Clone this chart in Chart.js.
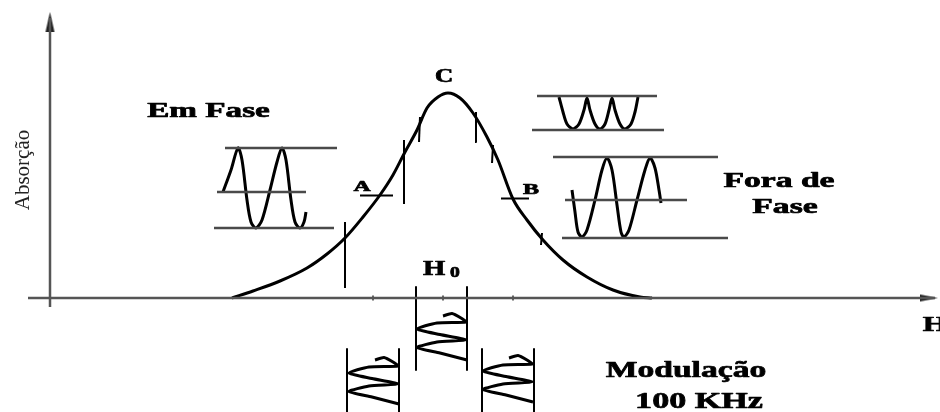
<!DOCTYPE html>
<html>
<head>
<meta charset="utf-8">
<script src="https://cdn.jsdelivr.net/npm/chart.js@4/dist/chart.umd.min.js"></script>
<style>
  html, body { margin: 0; padding: 0; background: #fff; }
  #wrap { width: 940px; height: 412px; position: relative; }
</style>
</head>
<body>
<div id="wrap"><canvas id="esr"></canvas></div>
<script>
// Absorption line: field H against absorption (origin at the axes crossing)
const fieldH     = [182, 203, 230, 257, 277, 295, 313, 330, 343, 355, 367, 377, 388, 398, 410, 423, 437, 448, 463, 477, 493, 513, 537, 563, 590, 602];
const absorption = [0, 7, 17, 30, 44, 60, 81, 103, 123, 146, 168, 190, 201, 205, 200, 185, 161, 138, 99, 78, 58, 38, 21, 8, 1, 0];

// Modulation sweep bars standing on the line: [H, from, to]
const sweepBars = [[295, 10, 76], [354, 94, 158]];
// Small strokes marking the sweep on the line: [H, from, to]
const lineStrokes = [[369, 156, 181], [425, 156, 186], [442, 135, 153], [491, 53, 65]];
// Working points A and B: [H start, H end, level]
const levelA = [310, 343, 102.5];
const levelB = [451, 479, 99.5];

// Field axis ticks
const axisTicks = [323, 393, 463];

// In-phase signal (point A)
const inPhaseH   = [173, 181, 188, 192, 197, 201, 206, 212, 220, 227, 232, 236, 241, 245, 250, 254, 256];
const inPhaseV   = [106, 128, 150, 138, 98, 76, 70, 78, 108, 136, 150, 138, 98, 76, 70, 76, 86];
const inPhaseRefs = [[175, 287, 150], [167, 256, 106], [164, 284, 70]];

// Signal at the peak C (double frequency)
const peakH = [509, 513, 517, 523, 529, 534, 537, 540, 545, 550, 555, 559, 562, 565, 570, 575, 581, 585, 588];
const peakV = [201, 186, 174, 169, 174, 188, 200, 188, 174, 169, 174, 188, 200, 188, 174, 169, 174, 186, 201];
const peakRefs = [[487, 607, 202], [482, 614, 168]];

// Out-of-phase signal (point B)
const outPhaseH = [522, 525, 528, 532, 537, 545, 552, 557, 562, 567, 571, 574, 579, 587, 595, 600, 605, 609, 611];
const outPhaseV = [108, 86, 66, 61, 68, 98, 128, 140, 128, 93, 66, 61, 68, 98, 128, 140, 130, 108, 95];
const outPhaseRefs = [[503, 668, 141], [515, 637, 98], [512, 678, 60]];

// 100 kHz field modulation windows: [left H, right H, top, bottom]
const modWindows = [[366, 417, 11, -72], [297, 349, -51, -116], [432, 484, -51, -116]];
// Modulation traces inside each window
const modCenterH = [393, 402, 411, 416, 387, 367, 390, 416, 387, 367, 390, 417];
const modCenterV = [-18, -15.5, -20, -24, -25, -31, -36.5, -42, -44, -49.5, -55, -62];
const modLeftH   = [325, 334, 343, 348, 319, 299, 322, 348, 319, 299, 322, 349];
const modLeftV   = [-62, -59.5, -64, -68, -69, -75, -80.5, -86, -88, -93.5, -99, -106];
const modRightH  = [459, 468, 477, 482, 453, 433, 456, 482, 453, 433, 456, 483];
const modRightV  = [-60, -57.5, -62, -66, -67, -73, -78.5, -84, -86, -91.5, -97, -104];

// Axes extent
const axisH = [-22, 885];
const axisA = [-9, 280];

// Texts
const texts = [
  { t: 'Absorção', x: -21.5, y: 128, size: 21, bold: false, sx: 1, rot: -90 },
  { t: 'Em Fase', x: 158.5, y: 181, size: 21, bold: true, sx: 1.58 },
  { t: 'C', x: 394, y: 216, size: 18, bold: true, sx: 1.4 },
  { t: 'A', x: 312, y: 107, size: 14, bold: true, sx: 1.7 },
  { t: 'B', x: 481, y: 104, size: 15, bold: true, sx: 1.6 },
  { t: 'Fora de', x: 729, y: 111, size: 21, bold: true, sx: 1.6 },
  { t: 'Fase', x: 735, y: 85, size: 21, bold: true, sx: 1.6 },
  { t: 'H', x: 384, y: 23, size: 22, bold: true, sx: 1.3 },
  { t: '0', x: 405, y: 21, size: 14, bold: true, sx: 1.4 },
  { t: 'H', x: 885, y: -33, size: 21, bold: true, sx: 1.5 },
  { t: 'Modulação', x: 636, y: -78.5, size: 24, bold: true, sx: 1.4 },
  { t: '100 KHz', x: 649, y: -110, size: 24, bold: true, sx: 1.42 }
];

const pairs = (xs, ys) => xs.map((x, i) => ({ x, y: ys[i] }));

function line(data, color, width, tension) {
  return {
    data, showLine: true, pointRadius: 0, pointHoverRadius: 0,
    borderColor: color, borderWidth: width, tension: tension || 0,
    borderCapStyle: 'butt', borderJoinStyle: 'round', fill: false
  };
}

function arrowHead(len, half) {
  const c = document.createElement('canvas');
  c.width = Math.ceil(half * 2) + 2;
  c.height = len;
  const g = c.getContext('2d');
  g.fillStyle = '#222';
  g.beginPath();
  g.moveTo(c.width / 2, 0);
  g.lineTo(c.width / 2 + half, len);
  g.lineTo(c.width / 2 - half, len);
  g.closePath();
  g.fill();
  return c;
}

const INK = '#000';
const REF = '#4a4a4a';
const AXIS = '#555';

const datasets = [];

// axes
datasets.push(line([{ x: axisH[0], y: 0 }, { x: axisH[1], y: 0 }], AXIS, 2.5));
datasets.push(line([{ x: 0, y: axisA[0] }, { x: 0, y: axisA[1] }], AXIS, 2.5));
datasets.push({
  data: [{ x: 0, y: axisA[1] - 4 }], pointStyle: arrowHead(20, 4.5), rotation: 0,
  pointRadius: 10, showLine: false
});
datasets.push({
  data: [{ x: axisH[1] - 6, y: 0 }], pointStyle: arrowHead(18, 3.5), rotation: 90,
  pointRadius: 10, showLine: false
});
datasets.push({
  data: axisTicks.map(x => ({ x, y: 0 })), pointStyle: 'line', rotation: 90,
  pointRadius: 2.5, borderColor: '#333', borderWidth: 1.5, showLine: false
});

// absorption line
datasets.push(Object.assign(line(pairs(fieldH, absorption), INK, 3), { cubicInterpolationMode: 'monotone' }));

// bars and strokes on the line
sweepBars.forEach(([x, a, b]) => datasets.push(line([{ x, y: a }, { x, y: b }], INK, 2)));
lineStrokes.forEach(([x, a, b]) => datasets.push(line([{ x, y: a }, { x: x + 1, y: b }], INK, 2)));
[levelA, levelB].forEach(([a, b, v]) => datasets.push(line([{ x: a, y: v }, { x: b, y: v }], INK, 2)));

// reference levels of the three detected signals
[...inPhaseRefs, ...peakRefs, ...outPhaseRefs].forEach(([a, b, v]) =>
  datasets.push(line([{ x: a, y: v }, { x: b, y: v }], REF, 2.5)));

// detected signals
datasets.push(line(pairs(inPhaseH, inPhaseV), INK, 3, 0.3));
datasets.push(line(pairs(peakH, peakV), INK, 3, 0.3));
datasets.push(line(pairs(outPhaseH, outPhaseV), INK, 3, 0.3));

// modulation windows
modWindows.forEach(([l, r, top, bot]) => {
  datasets.push(line([{ x: l, y: top }, { x: l, y: bot }], INK, 2));
  datasets.push(line([{ x: r, y: top }, { x: r, y: bot }], INK, 2));
});
datasets.push(line(pairs(modCenterH, modCenterV), INK, 3, 0.2));
datasets.push(line(pairs(modLeftH, modLeftV), INK, 3, 0.2));
datasets.push(line(pairs(modRightH, modRightV), INK, 3, 0.2));

const textPlugin = {
  id: 'diagramTexts',
  afterDatasetsDraw(chart) {
    const { ctx, scales: { x, y } } = chart;
    texts.forEach(l => {
      ctx.save();
      ctx.translate(x.getPixelForValue(l.x), y.getPixelForValue(l.y));
      if (l.rot) ctx.rotate(l.rot * Math.PI / 180);
      ctx.scale(l.sx || 1, 1);
      ctx.font = (l.bold ? 'bold ' : '') + l.size + 'px "Liberation Serif", "Times New Roman", serif';
      ctx.fillStyle = l.bold ? '#000' : '#222';
      ctx.textAlign = 'center';
      ctx.textBaseline = 'alphabetic';
      ctx.fillText(l.t, 0, 0);
      if (l.bold) {
        ctx.strokeStyle = '#000';
        ctx.lineWidth = 0.7;
        ctx.lineJoin = 'round';
        ctx.strokeText(l.t, 0, 0);
      }
      ctx.restore();
    });
  }
};

new Chart(document.getElementById('esr'), {
  type: 'scatter',
  data: { datasets },
  options: {
    responsive: true,
    maintainAspectRatio: false,
    animation: false,
    events: [],
    layout: { padding: 0, autoPadding: false },
    plugins: { legend: { display: false }, tooltip: { enabled: false } },
    scales: {
      x: { type: 'linear', min: -50, max: 890, display: false },
      y: { type: 'linear', min: -114, max: 298, display: false }
    }
  },
  plugins: [textPlugin]
});
</script>
</body>
</html>
